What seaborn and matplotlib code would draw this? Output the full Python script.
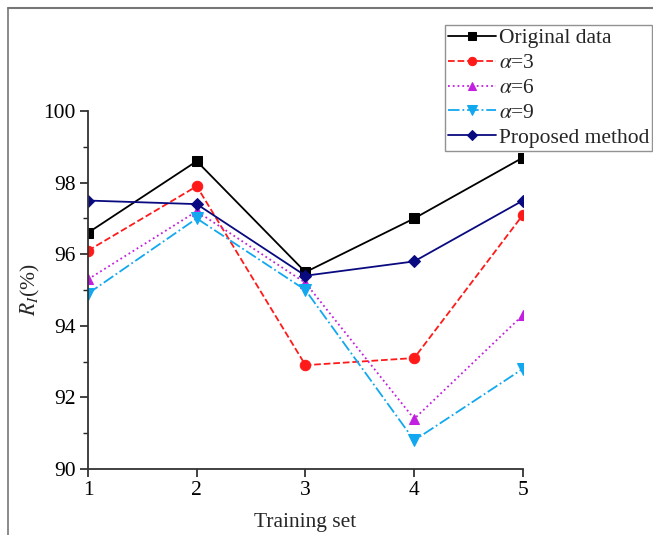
import pandas as pd
import seaborn as sns
import matplotlib.pyplot as plt
from matplotlib.lines import Line2D
from matplotlib.ticker import MultipleLocator

training_set = [1, 2, 3, 4, 5]
original = [96.6, 98.6, 95.5, 97.0, 98.7]
alpha3 = [96.1, 97.9, 92.9, 93.1, 97.1]
alpha6 = [95.3, 97.2, 95.2, 91.4, 94.3]
alpha9 = [94.9, 97.0, 95.0, 90.8, 92.8]
proposed = [97.5, 97.4, 95.4, 95.8, 97.5]

labels = ["Original data", r"$\alpha$=3", r"$\alpha$=6", r"$\alpha$=9", "Proposed method"]
series = [original, alpha3, alpha6, alpha9, proposed]
colors = ["black", "#ff1a1a", "#c21fe0", "#12a8f0", "#0a0a80"]
styles = ["-", "--", ":", "-.", "-"]
markers = ["s", "o", "^", "v", "D"]
msizes = [6.5, 7.5, 7.5, 8.5, 6.5]

sns.set_style("white")
plt.rcParams["font.family"] = ["Liberation Serif", "DejaVu Serif"]
plt.rcParams["mathtext.fontset"] = "stix"

fig = plt.figure(figsize=(6.53, 5.35), dpi=100)
ax = fig.add_axes([0.1348, 0.1234, 0.666, 0.669])

for lab, vals, c, ls, m, ms in zip(labels, series, colors, styles, markers, msizes):
    d = pd.DataFrame({"x": training_set, "y": vals})
    sns.lineplot(data=d, x="x", y="y", ax=ax, color=c, linestyle=ls, marker=m,
                 markersize=ms, markeredgecolor=c, linewidth=1.3, label=lab)

ax.set_xlim(1, 5)
ax.set_ylim(90, 100)
ax.set_xticks(training_set)
ax.yaxis.set_major_locator(MultipleLocator(2))
ax.yaxis.set_minor_locator(MultipleLocator(1))
ax.tick_params(axis="both", which="major", direction="out", length=6, width=1.2,
               labelsize=15.5, colors="#222222", bottom=True, left=True, pad=3)
ax.tick_params(axis="y", which="minor", direction="out", length=3.5, width=1.0,
               left=True, colors="#222222")
for t in ax.get_xticklabels() + ax.get_yticklabels():
    t.set_color("black")

sns.despine(ax=ax)
for s in ["left", "bottom"]:
    ax.spines[s].set_color("#333333")
    ax.spines[s].set_linewidth(1.3)

ax.set_xlabel("Training set", fontsize=15.5, labelpad=9)
ax.set_ylabel(r"$R_I$(%)", fontsize=15.5, labelpad=1)

leg = ax.legend(loc="upper left", bbox_to_anchor=(0.6815, 0.953),
                bbox_transform=fig.transFigure, fontsize=15.5, frameon=True,
                fancybox=False, handlelength=2.2, handletextpad=0.15,
                borderpad=0.15, borderaxespad=0, labelspacing=0.22,
                markerscale=0.8)
leg.get_frame().set_edgecolor("#777777")
leg.get_frame().set_linewidth(1.0)

# outer figure frame lines
fig.add_artist(Line2D([8 / 653, 1], [1 - 8 / 535, 1 - 8 / 535], transform=fig.transFigure,
                      color="#777777", linewidth=1.5))
fig.add_artist(Line2D([8 / 653, 8 / 653], [0, 1 - 8 / 535], transform=fig.transFigure,
                      color="#777777", linewidth=1.2))

fig.savefig("out.png", dpi=100)
